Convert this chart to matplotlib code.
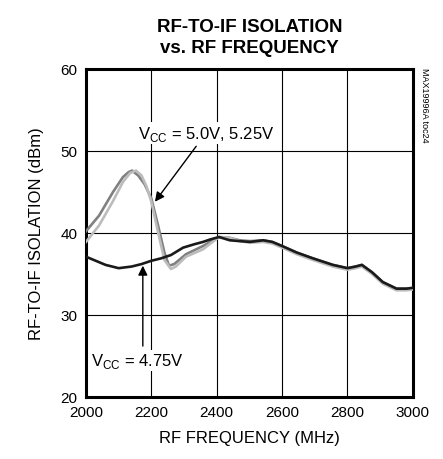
import matplotlib
matplotlib.use("Agg")
import matplotlib.pyplot as plt
from matplotlib import font_manager

# -------------------------
# DATA
# -------------------------
freq_475 = [2000, 2030, 2060, 2100, 2140, 2170, 2200, 2230, 2260, 2297, 2330,
            2358, 2380, 2407, 2440, 2470, 2502, 2542, 2570, 2600, 2645, 2694,
            2755, 2800, 2825, 2844, 2875, 2908, 2950, 2980, 3000]
iso_475 = [37.1, 36.6, 36.1, 35.7, 35.9, 36.2, 36.6, 36.9, 37.3, 38.2, 38.6,
           38.9, 39.2, 39.5, 39.1, 39.0, 38.9, 39.1, 38.9, 38.4, 37.6, 36.9,
           36.1, 35.7, 35.9, 36.1, 35.2, 34.0, 33.2, 33.2, 33.3]

freq_50 = [2000, 2040, 2083, 2113, 2130, 2141, 2160, 2180, 2200, 2220, 2240,
           2254, 2270, 2306, 2358, 2407, 2440, 2470, 2502, 2542, 2570, 2600,
           2645, 2694, 2755, 2800, 2825, 2844, 2875, 2908, 2950, 2980, 3000]
iso_50 = [40.2, 42.1, 45.0, 46.8, 47.4, 47.6, 47.0, 45.9, 44.2, 41.0, 37.6,
          36.0, 36.2, 37.4, 38.4, 39.5, 39.4, 39.1, 39.0, 39.1, 38.9, 38.4,
          37.6, 36.9, 36.1, 35.7, 35.9, 36.1, 35.2, 34.0, 33.2, 33.2, 33.3]

freq_525 = [2000, 2040, 2083, 2113, 2135, 2153, 2170, 2185, 2200, 2220, 2240,
            2260, 2275, 2306, 2358, 2407, 2440, 2470, 2502, 2542, 2570, 2600,
            2645, 2694, 2755, 2800, 2825, 2844, 2875, 2908, 2950, 2980, 3000]
iso_525 = [38.9, 40.9, 43.9, 46.2, 47.3, 47.6, 47.0, 45.7, 43.8, 40.2, 36.7,
           35.6, 35.9, 37.1, 38.0, 39.5, 39.4, 39.0, 38.8, 38.9, 38.7, 38.2,
           37.4, 36.7, 35.9, 35.5, 35.7, 35.9, 35.0, 33.8, 33.0, 33.0, 33.1]

x_ticks = [2000, 2200, 2400, 2600, 2800, 3000]
y_ticks = [20, 30, 40, 50, 60]

# -------------------------
# FONT
# -------------------------
names = {f.name for f in font_manager.fontManager.ttflist}
fam = "Liberation Sans Narrow" if "Liberation Sans Narrow" in names else "Liberation Sans"
plt.rcParams["font.family"] = [fam, "DejaVu Sans"]

# -------------------------
# PLOT
# -------------------------
fig = plt.figure(figsize=(4.43, 4.60), dpi=100)
ax = fig.add_axes([0.194, 0.135, 0.738, 0.713])

ax.plot(freq_475, iso_475, color="#1a1a1a", lw=1.9, zorder=4)
ax.plot(freq_50, iso_50, color="#808080", lw=1.9, zorder=3)
ax.plot(freq_525, iso_525, color="#bcbcbc", lw=1.9, zorder=3)

ax.set_xlim(2000, 3000)
ax.set_ylim(20, 60)
ax.set_xticks(x_ticks)
ax.set_yticks(y_ticks)
ax.tick_params(labelsize=11, length=0, pad=6)
ax.grid(True, color="black", lw=0.8)
for s in ax.spines.values():
    s.set_linewidth(2.2)

ax.set_xlabel("RF FREQUENCY (MHz)", fontsize=12, labelpad=8)
ax.set_ylabel("RF-TO-IF ISOLATION (dBm)", fontsize=12, labelpad=12)
ax.set_title("RF-TO-IF ISOLATION\nvs. RF FREQUENCY", fontsize=13.5, fontweight="bold",
             linespacing=1.3, pad=12)

# annotations
ax.annotate("V$_{\\mathregular{CC}}$ = 5.0V, 5.25V", xy=(2211, 43.8), xytext=(2367, 51.0),
            fontsize=12, ha="center", va="bottom",
            bbox=dict(fc="white", ec="none", pad=1),
            arrowprops=dict(arrowstyle="-|>", color="black", lw=1.0,
                            mutation_scale=14, shrinkA=2, shrinkB=0))
ax.annotate("", xy=(2174, 36.0), xytext=(2174, 26.2),
            arrowprops=dict(arrowstyle="-|>", color="black", lw=1.0,
                            mutation_scale=14, shrinkA=0, shrinkB=0))
ax.text(2159, 23.3, "V$_{\\mathregular{CC}}$ = 4.75V", fontsize=12, ha="center",
        va="bottom", bbox=dict(fc="white", ec="none", pad=1))

fig.text(0.958, 0.77, "MAX19996A toc24", rotation=270, fontsize=6.5,
         ha="center", va="center")

fig.savefig("out.png", dpi=100)
